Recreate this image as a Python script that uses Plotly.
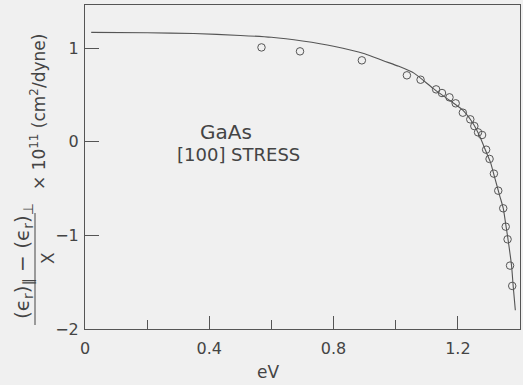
import plotly.graph_objects as go

# measured data points (open circles)
pts_x = [0.568, 0.692, 0.891, 1.036, 1.080, 1.130, 1.149, 1.173, 1.193, 1.216,
         1.240, 1.253, 1.265, 1.278, 1.291, 1.302, 1.316, 1.330, 1.346, 1.354,
         1.360, 1.368, 1.375]
pts_y = [1.007, 0.965, 0.869, 0.709, 0.662, 0.559, 0.520, 0.474, 0.410, 0.310,
         0.239, 0.167, 0.100, 0.072, -0.085, -0.184, -0.341, -0.523, -0.711, -0.907,
         -1.042, -1.323, -1.540]

# theoretical curve
curve_x = [0.02, 0.2, 0.35, 0.5, 0.6, 0.7, 0.8, 0.9, 0.96, 1.01, 1.06, 1.12, 1.17,
           1.215, 1.25, 1.27, 1.29, 1.305, 1.32, 1.335, 1.346, 1.354, 1.36, 1.373,
           1.378, 1.385]
curve_y = [1.168, 1.163, 1.155, 1.135, 1.115, 1.075, 1.02, 0.94, 0.865, 0.805, 0.73,
           0.57, 0.45, 0.34, 0.19, 0.06, -0.10, -0.22, -0.40, -0.58, -0.71, -0.88,
           -1.01, -1.33, -1.54, -1.80]

x_ticks = [0, 0.4, 0.8, 1.2]
x_tick_labels = ["0", "0.4", "0.8", "1.2"]
y_ticks = [-2, -1, 0, 1]
y_tick_labels = ["\u22122", "\u22121", "0", "1"]

INK = "#444444"
BG = "#f0f0f0"
FONT = "DejaVu Sans"

W, H = 523, 385
L, R, T, B = 85, 3, 5, 56
PW, PH = W - L - R, H - T - B


def px(x):
    return (x - L) / PW


def py(y):
    return (H - B - y) / PH


fig = go.Figure()
fig.add_trace(go.Scatter(x=curve_x, y=curve_y, mode="lines",
                         line=dict(color="#555555", width=1.1, shape="spline", smoothing=0.6),
                         hoverinfo="skip", showlegend=False))
fig.add_trace(go.Scatter(x=pts_x, y=pts_y, mode="markers",
                         marker=dict(symbol="circle-open", size=7.5,
                                     color="#555555", line=dict(width=1)),
                         showlegend=False))

fig.update_layout(
    width=W, height=H,
    margin=dict(l=L, r=R, t=T, b=B),
    paper_bgcolor=BG, plot_bgcolor=BG,
    font=dict(family=FONT, color=INK, size=15),
    xaxis=dict(range=[0, 1.4], tickvals=x_ticks, ticktext=x_tick_labels,
               ticks="inside", ticklen=13, tickcolor="#555555", tickwidth=1,
               showline=True, linecolor="#555555", linewidth=1, mirror=True,
               showgrid=False, zeroline=False,
               minor=dict(tickvals=[0.2, 0.6, 1.0], ticks="inside", ticklen=9,
                          tickcolor="#555555", tickwidth=1, showgrid=False),
               tickfont=dict(size=16), ticklabelstandoff=5),
    yaxis=dict(range=[-2, 1.46], tickvals=y_ticks, ticktext=y_tick_labels,
               ticks="inside", ticklen=14, tickcolor="#555555", tickwidth=1,
               showline=True, linecolor="#555555", linewidth=1, mirror=True,
               showgrid=False, zeroline=False,
               tickfont=dict(size=16), ticklabelstandoff=2),
)

ann = [
    dict(text="eV", x=px(268), y=py(372), size=17, angle=0),
    dict(text="GaAs", x=px(226), y=py(132), size=20, angle=0),
    dict(text="[100] STRESS", x=px(238), y=py(155), size=18, angle=0),
    dict(text="(\u03f5<sub>r</sub>)<sub>\u2225</sub> \u2212 (\u03f5<sub>r</sub>)<sub>\u22a5</sub>",
         x=px(23), y=py(261), size=20, angle=-90),
    dict(text="X", x=px(48), y=py(258), size=17, angle=-90),
    dict(text="\u00d7 10<sup>11</sup> (cm<sup>2</sup>/dyne)",
         x=px(38), y=py(112), size=17, angle=-90),
]
for a in ann:
    fig.add_annotation(text=a["text"], x=a["x"], y=a["y"], xref="paper", yref="paper",
                       showarrow=False, textangle=a["angle"],
                       font=dict(size=a["size"], color=INK, family=FONT),
                       xanchor="center", yanchor="middle")

fig.add_shape(type="line", xref="paper", yref="paper",
              x0=px(35), x1=px(35), y0=py(213), y1=py(325),
              line=dict(color=INK, width=1))

fig.write_html("out.html")
